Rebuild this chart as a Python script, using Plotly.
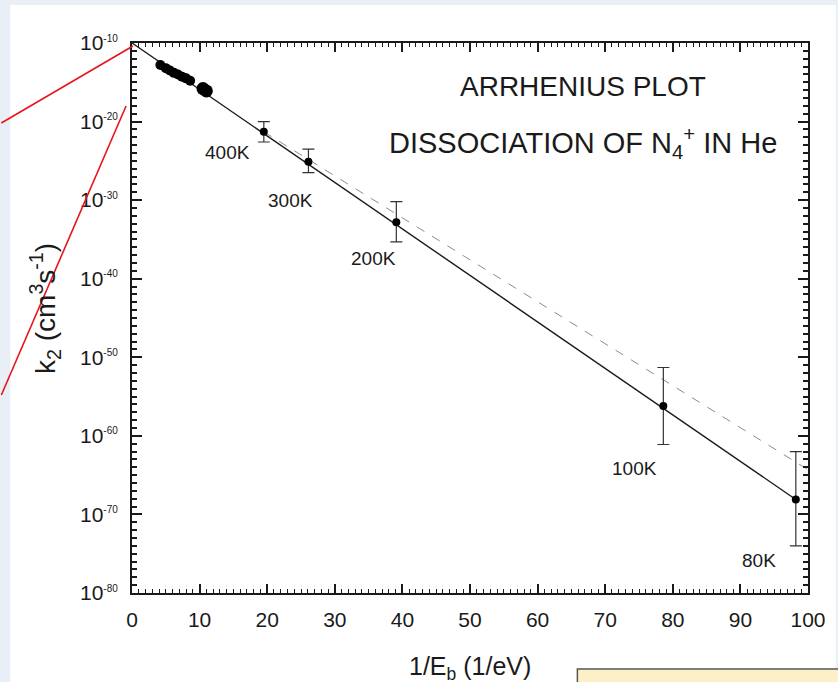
import plotly.graph_objects as go

# ---------------- data ----------------
# 1/E_b (1/eV) and log10(k2 / cm^3 s^-1)
cluster_x = [4.2, 5.0, 5.6, 6.2, 6.8, 7.4, 8.0, 8.6, 10.5, 11.0]
cluster_y = [-12.8, -13.2, -13.5, -13.8, -14.0, -14.3, -14.5, -14.8, -15.8, -16.1]
cluster_size = [10, 10, 10, 10, 10, 10, 10, 10, 13, 13]

temps = ["400K", "300K", "200K", "100K", "80K"]
pts_x = [19.5, 26.1, 39.1, 78.6, 98.2]
pts_y = [-21.3, -25.1, -32.8, -56.2, -68.1]
err_plus = [1.3, 1.6, 2.6, 4.9, 6.1]
err_minus = [1.3, 1.4, 2.5, 4.9, 5.9]

label_x = [14.1, 23.4, 35.7, 74.4, 92.7]
label_y = [-23.9, -30.0, -37.4, -64.1, -75.8]

fit_x = [0, 98.2]
fit_y = [-10.0, -68.1]
dash_x = [19.5, 100]
dash_y = [-21.3, -64.3]

ytick_vals = [-10, -20, -30, -40, -50, -60, -70, -80]
ytick_text = ["10<sup><span style='font-size:10px'>%d</span></sup>" % v for v in ytick_vals]
xtick_vals = list(range(0, 101, 10))

# ---------------- layout geometry ----------------
W, H = 838, 682
L, R, T, B = 132, 815, 43, 593


def px(x):
    return (x - L) / (R - L)


def py(y):
    return (B - y) / (B - T)


FONT = "Liberation Sans, Arial, sans-serif"
INK = "#1a1a1a"

fig = go.Figure()

fig.add_trace(go.Scatter(x=dash_x, y=dash_y, mode="lines",
                         line=dict(color="#8a8a8a", width=1, dash="dash"),
                         hoverinfo="skip", showlegend=False))
fig.add_trace(go.Scatter(x=fit_x, y=fit_y, mode="lines",
                         line=dict(color=INK, width=1.4),
                         hoverinfo="skip", showlegend=False))
fig.add_trace(go.Scatter(x=cluster_x, y=cluster_y, mode="markers",
                         marker=dict(color="black", size=cluster_size, opacity=1,
                                     line=dict(width=0)),
                         showlegend=False))
fig.add_trace(go.Scatter(x=pts_x, y=pts_y, mode="markers",
                         marker=dict(color="black", size=8, opacity=1, line=dict(width=0)),
                         error_y=dict(type="data", symmetric=False, array=err_plus,
                                      arrayminus=err_minus, width=6, thickness=1.2,
                                      color="#333333"),
                         text=temps, showlegend=False))

annotations = []
for t, lx, ly in zip(temps, label_x, label_y):
    annotations.append(dict(x=lx, y=ly, xref="x", yref="y", text=t, showarrow=False,
                            xanchor="center", yanchor="middle",
                            font=dict(family=FONT, size=19, color=INK)))


def ann(x, y, text, size, angle=0):
    return dict(x=px(x), y=py(y), xref="paper", yref="paper", text=text, showarrow=False,
                xanchor="center", yanchor="middle", textangle=angle,
                font=dict(family=FONT, size=size, color=INK))


annotations += [
    ann(588, 87, "ARRHENIUS PLOT", 28),
    ann(588, 143, "DISSOCIATION OF N<sub>4</sub><sup>+</sup> IN He", 29),
    ann(44, 308, "k<sub>2</sub> (cm<sup>3</sup>s<sup>-1</sup>)", 28, -90),
    ann(474, 668, "1/E<sub>b</sub> (1/eV)", 25),
]

shapes = [
    # white slide panel
    dict(type="rect", xref="paper", yref="paper", x0=px(9), x1=px(W + 5), y0=py(5), y1=py(H + 5),
         fillcolor="white", line=dict(width=0), layer="below"),
    # yellow note box
    dict(type="rect", xref="paper", yref="paper", x0=px(582), x1=px(W + 10), y0=py(669), y1=py(H + 10),
         fillcolor="#fdf0c9", line=dict(color="#555555", width=1.5), layer="above"),
    # red pointer lines
    dict(type="line", xref="paper", yref="paper", x0=px(0), y0=py(123), x1=px(133), y1=py(46),
         line=dict(color="#e8141b", width=1.6), layer="above"),
    dict(type="line", xref="paper", yref="paper", x0=px(126), y0=py(106), x1=px(0), y1=py(395),
         line=dict(color="#e8141b", width=1.6), layer="above"),
]

axis_common = dict(showgrid=False, zeroline=False, showline=True, linecolor=INK, linewidth=2,
                   mirror="allticks", ticks="inside", tickcolor=INK, tickwidth=1.5,
                   tickfont=dict(family=FONT, size=21, color=INK))

fig.update_layout(
    width=W, height=H,
    margin=dict(l=L, r=W - R, t=T, b=H - B, pad=0),
    paper_bgcolor="#e8eff7", plot_bgcolor="rgba(0,0,0,0)",
    xaxis=dict(range=[0, 100], tickvals=xtick_vals, ticklen=9,
               minor=dict(dtick=1, ticks="inside", ticklen=4, tickcolor=INK, tickwidth=1),
               ticklabelstandoff=7, **axis_common),
    yaxis=dict(range=[-80, -10], tickvals=ytick_vals, ticktext=ytick_text, ticklen=10,
               minor=dict(dtick=1, ticks="inside", ticklen=5, tickcolor=INK, tickwidth=1.5),
               ticklabelstandoff=8, **axis_common),
    annotations=annotations, shapes=shapes, showlegend=False,
)

fig.write_html("out.html")
